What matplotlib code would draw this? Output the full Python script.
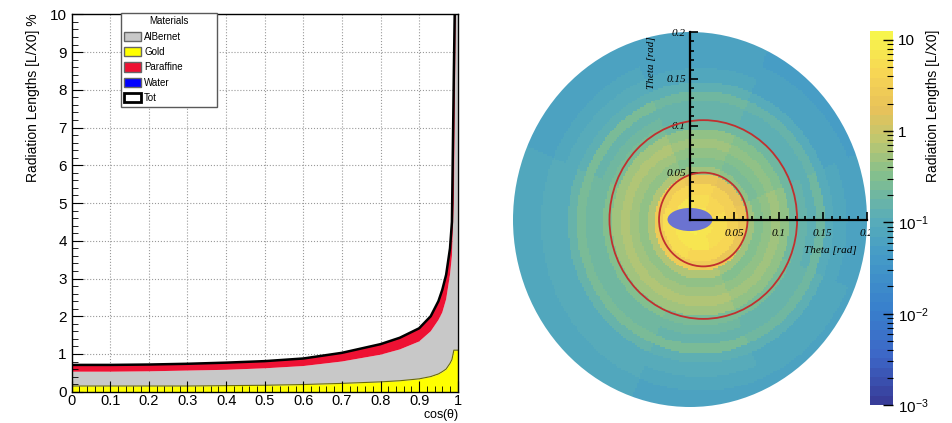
import numpy as np
import matplotlib
matplotlib.use("Agg")
import matplotlib.pyplot as plt
from matplotlib.colors import LinearSegmentedColormap, LogNorm
from matplotlib.patches import Patch, Circle, Ellipse
from matplotlib.ticker import MultipleLocator, FixedLocator, FixedFormatter, FuncFormatter

plt.rcParams['font.family'] = ['Liberation Sans', 'DejaVu Sans']
plt.rcParams['mathtext.fontset'] = 'custom'
plt.rcParams['mathtext.rm'] = 'Liberation Sans'
plt.rcParams['mathtext.default'] = 'regular'

# Left panel: stacked material budget vs cos(theta)
COS_THETA = [0.0, 0.1, 0.2, 0.3, 0.4, 0.5, 0.6, 0.7, 0.8, 0.85, 0.9, 0.93, 0.95,
             0.96, 0.97, 0.98, 0.985, 0.99, 0.995, 1.0]
GOLD      = [0.15, 0.15, 0.15, 0.15, 0.16, 0.17, 0.19, 0.22, 0.26, 0.29, 0.34, 0.40, 0.47,
             0.53, 0.60, 0.75, 0.85, 1.10, 1.10, 1.10]
ALBERNET  = [0.38, 0.38, 0.39, 0.41, 0.42, 0.45, 0.49, 0.58, 0.72, 0.83, 0.99, 1.20, 1.43,
             1.57, 1.85, 2.35, 2.75, 3.90, 8.90, 10.9]
PARAFFINE = [0.18, 0.18, 0.18, 0.18, 0.19, 0.19, 0.20, 0.23, 0.28, 0.31, 0.35, 0.40, 0.50,
             0.60, 0.65, 0.70, 0.90, 3.50, 2.00, 2.00]
WATER     = [0.0] * 20

# Right panel: radial profile of the map (around RING_CENTER) + angular factors
RING_CENTER = (0.012, -0.003)
RING_EDGES  = [0.0, 0.015, 0.03, 0.042, 0.052, 0.06, 0.07, 0.08, 0.09, 0.1, 0.11,
               0.12, 0.13, 0.14, 0.15, 0.165, 0.18, 0.3]
RING_VALUES = [7.0, 6.0, 4.5, 2.5, 0.6, 0.35, 0.45, 0.6, 0.45, 0.25, 0.18, 0.16, 0.22,
               0.13, 0.09, 0.075, 0.065]
SECTOR_FACTOR = [0.85, 0.75, 0.9, 1.05, 1.2, 1.2, 1.05, 0.95]  # from +x, counter-clockwise
HOLE = (0.0, 0.0, 0.0254, 0.0123)                             # x, y, half-width, half-height
CIRCLES_CENTER = (0.015, 0.0)
CIRCLES_R = [0.05, 0.106]

fig = plt.figure(figsize=(9.53, 4.23), dpi=100)

# ---------------- left panel ----------------
ax1 = fig.add_axes([0.0752, 0.074, 0.4051, 0.892])
x = np.array(COS_THETA)
l1 = np.array(GOLD)
l2 = l1 + np.array(ALBERNET)
l3 = l2 + np.array(PARAFFINE)
l4 = l3 + np.array(WATER)

for v in np.arange(0.1, 1.0, 0.1):
    ax1.axvline(v, color='0.6', ls=':', lw=0.8, zorder=0)
for v in range(1, 10):
    ax1.axhline(v, color='0.6', ls=':', lw=0.8, zorder=0)

ax1.fill_between(x, 0, l1, color='#ffff00', lw=0, zorder=1)
ax1.plot(x, l1, color='#6b6b00', lw=0.8, zorder=1.1)
ax1.fill_between(x, l1, l2, color='#c8c8c8', lw=0, zorder=1)
ax1.fill_between(x, l2, l3, color='#ee1133', lw=0, zorder=1)
ax1.fill_between(x, l3, l4, color='#0000ff', lw=0, zorder=1)
ax1.plot(x, l4, color='k', lw=1.8, zorder=1.2)

ax1.set_xlim(0, 1)
ax1.set_ylim(0, 10)
ax1.xaxis.set_major_locator(MultipleLocator(0.1))
ax1.xaxis.set_minor_locator(MultipleLocator(0.02))
ax1.yaxis.set_major_locator(MultipleLocator(1))
ax1.yaxis.set_minor_locator(MultipleLocator(0.2))
ax1.xaxis.set_major_formatter(FuncFormatter(lambda v, p: '%g' % round(v, 2)))
ax1.tick_params(which='both', direction='in', top=False, right=False, labelsize=11, zorder=3)
ax1.tick_params(which='major', length=8)
ax1.tick_params(which='minor', length=4)
ax1.tick_params(axis='x', pad=2, labelsize=10.5)
for s in ax1.spines.values():
    s.set_linewidth(1.0)
    s.set_zorder(3)

fig.text(33 / 953, 1 - 13 / 423, 'Radiation Lengths [L/X0] %', rotation=90,
         ha='center', va='top', fontsize=10)
fig.text(459 / 953, 0.0, r'cos($\theta$)', ha='right', va='bottom', fontsize=9)

handles = [Patch(fc='#c8c8c8', ec='0.4', label='AlBernet'),
           Patch(fc='#ffff00', ec='0.4', label='Gold'),
           Patch(fc='#ee1133', ec='0.4', label='Paraffine'),
           Patch(fc='#0000ff', ec='0.4', label='Water'),
           Patch(fc='white', ec='k', lw=2, label='Tot')]
leg = ax1.legend(handles=handles, title='Materials', loc='upper left', mode='expand',
                 bbox_to_anchor=(120.7 / 953, 1 - 108 / 423, 96 / 953, 95 / 423),
                 bbox_transform=fig.transFigure, fontsize=7, title_fontsize=7,
                 fancybox=False, edgecolor='0.35', framealpha=1, borderpad=0.35,
                 labelspacing=0.55, handlelength=1.75, handleheight=1.1,
                 handletextpad=0.3, borderaxespad=0)
leg.get_frame().set_linewidth(1.0)
leg.set_zorder(5)

# ---------------- right panel ----------------
anchors = [(0.00, (0.22, 0.24, 0.60)), (0.12, (0.24, 0.40, 0.78)),
           (0.25, (0.22, 0.50, 0.80)), (0.40, (0.27, 0.61, 0.78)),
           (0.50, (0.35, 0.68, 0.72)), (0.62, (0.52, 0.75, 0.55)),
           (0.72, (0.76, 0.78, 0.43)), (0.80, (0.91, 0.76, 0.35)),
           (0.90, (0.97, 0.84, 0.33)), (1.00, (0.97, 0.96, 0.30))]
cmap = LinearSegmentedColormap.from_list('parula_like', anchors, N=40)
norm = LogNorm(vmin=1e-3, vmax=12.5)

ax2 = fig.add_axes([0.5383, 0.0378, 0.3715, 0.8865])
edges = np.linspace(-0.2, 0.2, 201)
cx = 0.5 * (edges[1:] + edges[:-1])
X, Y = np.meshgrid(cx, cx)
dx = X - RING_CENTER[0]
dy = Y - RING_CENTER[1]
d = np.hypot(dx, dy)
ring = np.clip(np.digitize(d, RING_EDGES) - 1, 0, len(RING_VALUES) - 1)
ang = (np.degrees(np.arctan2(dy, dx)) + 22.5) % 360
sector = (ang // 45).astype(int)
Z = np.array(RING_VALUES)[ring] * np.array(SECTOR_FACTOR)[sector]

mesh = ax2.pcolormesh(edges, edges, Z, cmap=cmap, norm=norm, shading='flat', zorder=1)
disk = Ellipse((0, 0), 0.4, 0.4, transform=ax2.transData)
mesh.set_clip_path(disk)

ax2.add_patch(Ellipse((HOLE[0], HOLE[1]), 2 * HOLE[2], 2 * HOLE[3],
                      fc=(0.42, 0.45, 0.82), ec='none', zorder=2))
for r in CIRCLES_R:
    ax2.add_patch(Circle(CIRCLES_CENTER, r, fill=False, ec='#c0302f', lw=1.3, zorder=3))

ax2.set_xlim(-0.2, 0.2)
ax2.set_ylim(-0.2, 0.2)
ax2.set_facecolor('none')
for side in ('top', 'right'):
    ax2.spines[side].set_visible(False)
for side in ('left', 'bottom'):
    ax2.spines[side].set_position(('data', 0))
    ax2.spines[side].set_bounds(0, 0.2)
    ax2.spines[side].set_linewidth(1.6)
    ax2.spines[side].set_zorder(4)
ticks = [0.05, 0.1, 0.15, 0.2]
minor = [i / 100 for i in range(1, 20)]
for axis in (ax2.xaxis, ax2.yaxis):
    axis.set_major_locator(FixedLocator(ticks))
    axis.set_minor_locator(FixedLocator(minor))
    axis.set_major_formatter(FixedFormatter(['0.05', '0.1', '0.15', '0.2']))
ax2.tick_params(which='both', direction='in', labelsize=8, width=1.2, zorder=4)
ax2.tick_params(which='major', length=6)
ax2.tick_params(which='minor', length=3)
ax2.tick_params(axis='x', pad=7)
ax2.tick_params(axis='y', pad=3)
for lab in ax2.get_xticklabels() + ax2.get_yticklabels():
    lab.set_family('Liberation Serif')
    lab.set_style('italic')
    lab.set_zorder(5)

fig.text(857 / 953, 1 - 250 / 423, 'Theta [rad]', ha='right', va='center', fontsize=8,
         family='Liberation Serif', style='italic')
fig.text(652 / 953, 1 - 36 / 423, 'Theta [rad]', rotation=90, ha='center', va='top',
         fontsize=8, family='Liberation Serif', style='italic')

# colorbar
cax = fig.add_axes([0.9129, 0.0426, 0.0241, 0.884])
cb = fig.colorbar(mesh, cax=cax)
cb.outline.set_visible(False)
cb.set_ticks([1e-3, 1e-2, 1e-1, 1, 10])
cb.set_ticklabels([r'$10^{-3}$', r'$10^{-2}$', r'$10^{-1}$', '1', '10'])
cax.tick_params(which='both', direction='in', labelsize=11, color='k')
cax.tick_params(which='major', length=7, width=1.0)
cax.tick_params(which='minor', length=4, width=0.8)
fig.text(933 / 953, 1 - 30 / 423, 'Radiation Lengths [L/X0]', rotation=90,
         ha='center', va='top', fontsize=10)

fig.savefig('out.png', dpi=100)
